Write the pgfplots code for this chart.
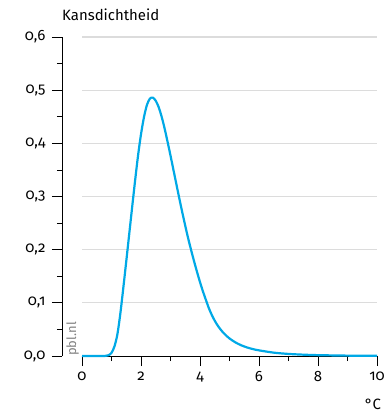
\documentclass[border=0pt]{standalone}
\usepackage{pgfplots}
\pgfplotsset{compat=1.18}
\usepackage{fontspec}
\setmainfont{Fira Sans}[Numbers=OldStyle]
\definecolor{curve}{HTML}{00A9E6}
\definecolor{gridc}{HTML}{DCDCDC}
\begin{document}
\begin{tikzpicture}[x=1bp,y=1bp]
\path[use as bounding box] (-62,-57) rectangle (322,356);
\begin{axis}[
  scale only axis,
  width=315bp, height=319bp,
  xmin=-0.678, xmax=10, ymin=0, ymax=0.6,
  clip=false,
  axis x line*=bottom, axis y line*=left,
  axis line style={draw=none},
  tick align=outside,
  major tick length=10bp, minor tick length=5bp,
  every tick/.style={black, line width=0.8bp},
  every minor tick/.style={black, line width=0.8bp},
  xtick={0,2,4,6,8,10}, xticklabels={0,2,4,6,8,10},
  minor xtick={1,3,5,7,9},
  ytick={0,0.1,0.2,0.3,0.4,0.5,0.6},
  yticklabels={{0,0},{0,1},{0,2},{0,3},{0,4},{0,5},{0,6}},
  minor ytick={0.05,0.15,0.25,0.35,0.45,0.55},
  tick label style={font=\fontsize{15}{17}\selectfont},
  yticklabel style={xshift=-3bp},
  xticklabel style={yshift=-2bp},
]
% gridlines
\foreach \v in {0.1,0.2,0.3,0.4,0.5,0.6}{
  \edef\tmp{\noexpand\draw[gridc, line width=1.2bp] (axis cs:0,\v) -- (axis cs:10,\v);}\tmp
}
% axis lines
\draw[black, line width=0.8bp] (axis cs:0,0) -- (axis cs:10,0);
\draw[black, line width=0.8bp] (axis cs:-0.678,0) -- (axis cs:-0.678,0.6);
\addplot[curve, line width=2.2bp, smooth, tension=0.5] table {
x y
0 0
0.7 0
0.8 0.0003
0.9 0.0015
1.0 0.006
1.1 0.018
1.2 0.041
1.3 0.080
1.4 0.128
1.5 0.178
1.6 0.229
1.7 0.280
1.8 0.330
1.9 0.377
2.0 0.417
2.1 0.449
2.2 0.472
2.3 0.484
2.4 0.486
2.5 0.480
2.6 0.468
2.7 0.450
2.8 0.428
2.9 0.403
3.0 0.377
3.1 0.350
3.2 0.323
3.3 0.296
3.4 0.270
3.5 0.245
3.6 0.221
3.7 0.199
3.8 0.178
3.9 0.158
4.0 0.139
4.1 0.1215
4.2 0.1055
4.3 0.0900
4.4 0.0772
4.5 0.0664
4.6 0.0573
4.7 0.0497
4.8 0.0432
4.9 0.0377
5.0 0.0330
5.2 0.0256
5.4 0.0201
5.6 0.0160
5.8 0.0129
6.0 0.0106
6.5 0.0063
7.0 0.0039
7.5 0.0025
8.0 0.0016
9.0 0.0007
10.0 0.0003
};
\node[rotate=90, anchor=south west, text=gray, font=\fontsize{13}{15}\selectfont, inner sep=0pt] at (axis cs:-0.1,0.0) {pbl.nl};
\node[anchor=north, font=\fontsize{15}{17}\selectfont, inner sep=0pt] at ([yshift=-43bp,xshift=-4bp]axis cs:10,0) {°C};
\node[anchor=west, font=\fontsize{15}{17}\selectfont, inner sep=0pt] at ([yshift=22bp]axis cs:-0.678,0.6) {Kansdichtheid};
\end{axis}
\end{tikzpicture}
\end{document}
